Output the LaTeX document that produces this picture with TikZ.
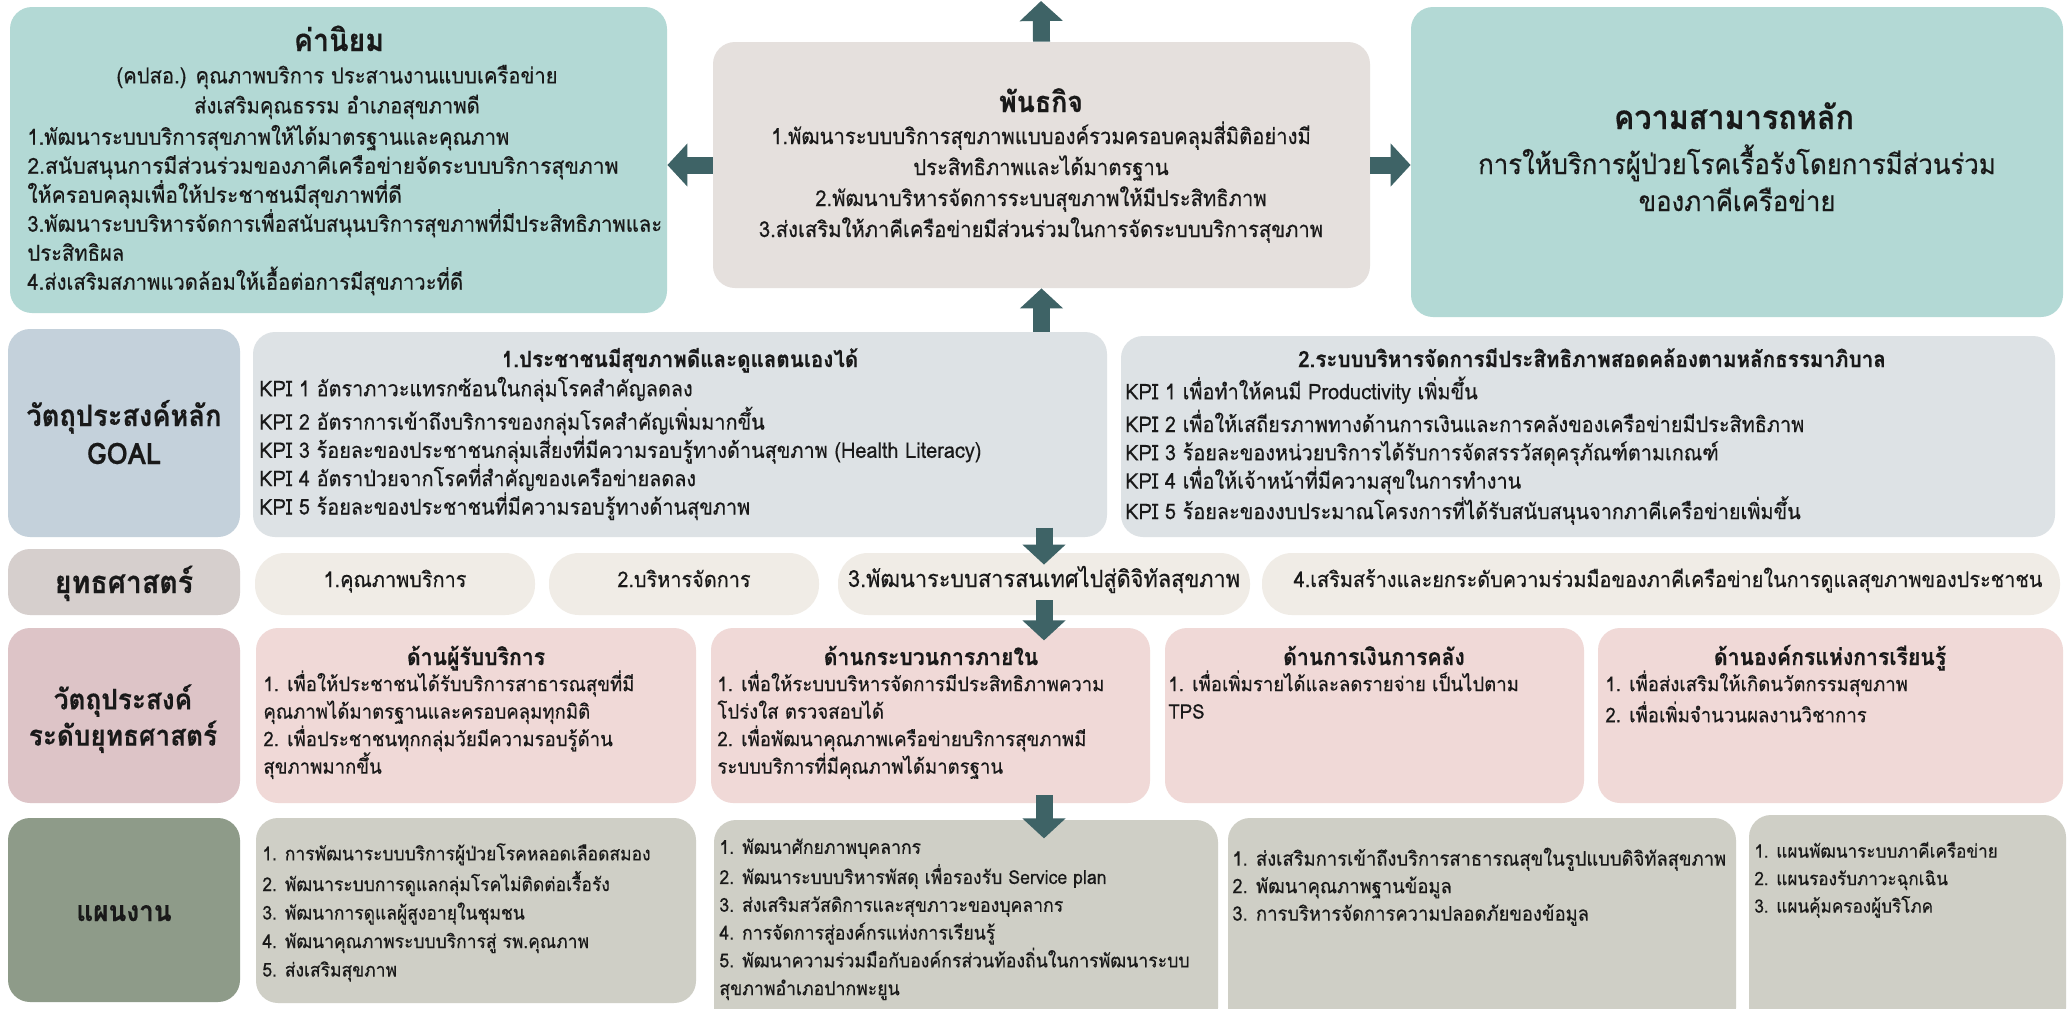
\documentclass[tikz,border=0pt]{standalone}
\usepackage{fontspec}
\setmainfont[Script=Thai,FakeStretch=0.92,FakeBold=0.4]{Loma}
\newfontfamily\thaiwide[Script=Thai,FakeStretch=0.96,FakeBold=0.4]{Loma}
\usetikzlibrary{fit,calc,arrows.meta}
\definecolor{tealbox}{RGB}{179,217,213}
\definecolor{missbox}{RGB}{229,224,221}
\definecolor{goallab}{RGB}{196,209,219}
\definecolor{kpibox}{RGB}{221,226,229}
\definecolor{stratlab}{RGB}{214,207,205}
\definecolor{pillc}{RGB}{240,236,230}
\definecolor{objlab}{RGB}{221,196,199}
\definecolor{objbox}{RGB}{240,217,215}
\definecolor{planlab}{RGB}{142,155,137}
\definecolor{planbox}{RGB}{207,207,198}
\definecolor{arrowc}{RGB}{62,99,102}
\definecolor{txt}{RGB}{25,25,25}
\newcommand\fs[2]{\fontsize{#1}{#2}\selectfont}
\begin{document}
\begin{tikzpicture}[x=0.5pt,y=-0.5pt,
  box/.style={inner sep=0pt, rounded corners=11pt, draw=none},
  pill/.style={inner sep=0pt, rounded corners=15pt, draw=none, fill=pillc},
  tb/.style={inner sep=0pt, anchor=north west, align=left, text=txt},
  tbc/.style={inner sep=0pt, anchor=north, align=center, text=txt},
  tl/.style={inner sep=0pt, anchor=base, text=txt},
  barrow/.style={draw=arrowc, line width=8.5pt, -{Triangle[width=21pt,length=10pt]}}]
\path[use as bounding box] (0,0) rectangle (2071,1008);
\clip (0,0) rectangle (2071,1008);
\fill[white] (0,0) rectangle (2071,1008);

% ---------- row 1 ----------
\node[box, fill=tealbox, fit={(10,7) (667,313)}] (values) {};
\node[box, fill=missbox, fit={(713,42) (1370,288)}] (mission) {};
\node[box, fill=tealbox, fit={(1411,7) (2063,317)}] (capab) {};

\node[tl, font=\fs{15.5}{18}\bfseries] (valT) at (339,51) {ค่านิยม};
\node[tbc, font=\fs{11}{15}] (valC) at (337,62) {\strut(คปสอ.) คุณภาพบริการ ประสานงานแบบเครือข่าย\\ส่งเสริมคุณธรรม อำเภอสุขภาพดี};
\node[tb, font=\fs{11}{14.5}] (valL) at (27,124) {\strut1.พัฒนาระบบบริการสุขภาพให้ได้มาตรฐานและคุณภาพ\\
{\thaiwide 2.สนับสนุนการมีส่วนร่วมของภาคีเครือข่ายจัดระบบบริการสุขภาพ}\\
{\thaiwide ให้ครอบคลุมเพื่อให้ประชาชนมีสุขภาพที่ดี}\\
3.พัฒนาระบบริหารจัดการเพื่อสนับสนุนบริการสุขภาพที่มีประสิทธิภาพและ\\
ประสิทธิผล\\
4.ส่งเสริมสภาพแวดล้อมให้เอื้อต่อการมีสุขภาวะที่ดี};

\node[tl, font=\fs{14.5}{17}\bfseries] (misT) at (1041,112) {พันธกิจ};
\node[tbc, font=\fs{11}{15.5}] (misB) at (1041,121) {\strut1.พัฒนาระบบบริการสุขภาพแบบองค์รวมครอบคลุมสี่มิติอย่างมี\\
ประสิทธิภาพและได้มาตรฐาน\\
2.พัฒนาบริหารจัดการระบบสุขภาพให้มีประสิทธิภาพ\\
3.ส่งเสริมให้ภาคีเครือข่ายมีส่วนร่วมในการจัดระบบบริการสุขภาพ};

\node[tl, font=\fs{16.6}{19}\bfseries] (capT) at (1734,129) {ความสามารถหลัก};
\node[tbc, font=\fs{14}{18.5}] (capB) at (1737,144) {\strut การให้บริการผู้ป่วยโรคเรื้อรังโดยการมีส่วนร่วม\\ของภาคีเครือข่าย};

\coordinate (topend) at (1041,1);
\draw[barrow] (mission.north) -- (topend);
\draw[barrow] (mission.west) -- (values.east |- mission.west);
\draw[barrow] (mission.east) -- (capab.west |- mission.east);

% ---------- row 2 ----------
\node[box, fill=goallab, fit={(8,329) (240,537)}] (goalL) {};
\node[box, fill=kpibox, fit={(253,332) (1107,537)}] (kpi1) {};
\node[box, fill=kpibox, fit={(1121,336) (2055,537)}] (kpi2) {};
\draw[barrow] (mission.south |- kpi1.north) -- (mission.south);

\node[tbc, font=\fs{14.8}{19}\bfseries] (goalT) at (124,399) {\strut วัตถุประสงค์หลัก\\GOAL};
\node[tl, font=\fs{11.2}{13}\bfseries] (k1T) at (680,367) {1.ประชาชนมีสุขภาพดีและดูแลตนเองได้};
\node[tb, font=\fs{10.8}{14.15}] (k1B) at (259,376) {\strut KPI 1 อัตราภาวะแทรกซ้อนในกลุ่มโรคสำคัญลดลง\\
KPI 2 อัตราการเข้าถึงบริการของกลุ่มโรคสำคัญเพิ่มมากขึ้น\\
KPI 3 ร้อยละของประชาชนกลุ่มเสี่ยงที่มีความรอบรู้ทางด้านสุขภาพ (Health Literacy)\\
KPI 4 อัตราป่วยจากโรคที่สำคัญของเครือข่ายลดลง\\
KPI 5 ร้อยละของประชาชนที่มีความรอบรู้ทางด้านสุขภาพ};
\node[tl, font=\fs{11.2}{13}\bfseries] (k2T) at (1592,367) {2.ระบบบริหารจัดการมีประสิทธิภาพสอดคล้องตามหลักธรรมาภิบาล};
\node[tb, font=\fs{10.8}{14.15}] (k2B) at (1125,376) {\strut KPI 1 เพื่อทำให้คนมี Productivity เพิ่มขึ้น\\
KPI 2 เพื่อให้เสถียรภาพทางด้านการเงินและการคลังของเครือข่ายมีประสิทธิภาพ\\
KPI 3 ร้อยละของหน่วยบริการได้รับการจัดสรรวัสดุครุภัณฑ์ตามเกณฑ์\\
KPI 4 เพื่อให้เจ้าหน้าที่มีความสุขในการทำงาน\\
KPI 5 ร้อยละของงบประมาณโครงการที่ได้รับสนับสนุนจากภาคีเครือข่ายเพิ่มขึ้น};

% ---------- row 3 ----------
\node[box, fill=stratlab, fit={(8,549) (240,615)}] (stratL) {};
\node[pill, fit={(255,553) (535,615)}] (s1) {};
\node[pill, fit={(549,553) (819,615)}] (s2) {};
\node[pill, fit={(838,553) (1250,615)}] (s3) {};
\node[pill, fit={(1262,553) (2060,615)}] (s4) {};
\node[tl, font=\fs{15.5}{18}\bfseries] (stratT) at (124,593) {ยุทธศาสตร์};
\node[tl, font=\fs{10.8}{13}] (s1T) at (395,587) {1.คุณภาพบริการ};
\node[tl, font=\fs{10.8}{13}] (s2T) at (684,587) {2.บริหารจัดการ};
\node[tl, font=\fs{11.8}{13}] (s3T) at (1044,587) {3.พัฒนาระบบสารสนเทศไปสู่ดิจิทัลสุขภาพ};
\node[tl, font=\fs{10.8}{13}] (s4T) at (1668,587) {4.เสริมสร้างและยกระดับความร่วมมือของภาคีเครือข่ายในการดูแลสุขภาพของประชาชน};
\draw[barrow] ($(s3.north)+(0,-25)$) -- ($(s3.north)+(0,12)$);

% ---------- row 4 ----------
\node[box, fill=objlab, fit={(8,628) (240,803)}] (objL) {};
\node[box, fill=objbox, fit={(256,628) (696,803)}] (oA) {};
\node[box, fill=objbox, fit={(711,628) (1150,803)}] (oB) {};
\node[box, fill=objbox, fit={(1165,628) (1584,803)}] (oC) {};
\node[box, fill=objbox, fit={(1598,628) (2063,803)}] (oD) {};
\draw[barrow] ($(s3.south)+(0,-15)$) -- ($(s3.south)+(0,25)$);

\node[tbc, font=\fs{14.2}{15.5}\bfseries] (objT) at (123,684) {\strut วัตถุประสงค์\\ระดับยุทธศาสตร์};
\node[tl, font=\fs{11.5}{13}\bfseries] (oAT) at (476,665) {ด้านผู้รับบริการ};
\node[tl, font=\fs{11.5}{13}\bfseries] (oBT) at (931,665) {ด้านกระบวนการภายใน};
\node[tl, font=\fs{11.5}{13}\bfseries] (oCT) at (1374,665) {ด้านการเงินการคลัง};
\node[tl, font=\fs{11.5}{13}\bfseries] (oDT) at (1830,665) {ด้านองค์กรแห่งการเรียนรู้};
\node[tb, font=\fs{10.1}{13.75}] (oAB) at (263,670) {\strut1. เพื่อให้ประชาชนได้รับบริการสาธารณสุขที่มี\\
คุณภาพได้มาตรฐานและครอบคลุมทุกมิติ\\
2. เพื่อประชาชนทุกกลุ่มวัยมีความรอบรู้ด้าน\\
สุขภาพมากขึ้น};
\node[tb, font=\fs{10.1}{13.75}] (oBB) at (717,670) {\strut1. เพื่อให้ระบบบริหารจัดการมีประสิทธิภาพความ\\
โปร่งใส ตรวจสอบได้\\
2. เพื่อพัฒนาคุณภาพเครือข่ายบริการสุขภาพมี\\
ระบบบริการที่มีคุณภาพได้มาตรฐาน};
\node[tb, font=\fs{10.1}{13.75}] (oCB) at (1168,670) {\strut1. เพื่อเพิ่มรายได้และลดรายจ่าย เป็นไปตาม\\TPS};
\node[tb, font=\fs{10.1}{13.75}] (oDB) at (1605,670) {\strut1. เพื่อส่งเสริมให้เกิดนวัตกรรมสุขภาพ\\2. เพื่อเพิ่มจำนวนผลงานวิชาการ};

% ---------- row 5 ----------
\node[box, fill=planlab, fit={(8,818) (240,1002)}] (planL) {};
\node[box, fill=planbox, fit={(256,818) (696,1003)}] (p1) {};
\node[box, fill=planbox, fit={(714,820) (1218,1030)}] (p2) {};
\node[box, fill=planbox, fit={(1228,818) (1736,1030)}] (p3) {};
\node[box, fill=planbox, fit={(1749,815) (2066,1030)}] (p4) {};
\draw[barrow] ($(s3.south |- oB.south)+(0,-8)$) -- ($(s3.south |- oB.south)+(0,35)$);

\node[tl, font=\fs{14.2}{16}\bfseries] (planT) at (124,921) {แผนงาน};
\node[tb, font=\fs{9.5}{14.25}] (p1B) at (262,840) {\strut1. การพัฒนาระบบบริการผู้ป่วยโรคหลอดเลือดสมอง\\
2. พัฒนาระบบการดูแลกลุ่มโรคไม่ติดต่อเรื้อรัง\\
3. พัฒนาการดูแลผู้สูงอายุในชุมชน\\
4. พัฒนาคุณภาพระบบบริการสู่ รพ.คุณภาพ\\
5. ส่งเสริมสุขภาพ};
\node[tb, font=\fs{9.6}{13.9}] (p2B) at (719,834) {\strut1. พัฒนาศักยภาพบุคลากร\\
2. พัฒนาระบบบริหารพัสดุ เพื่อรองรับ Service plan\\
3. ส่งเสริมสวัสดิการและสุขภาวะของบุคลากร\\
4. การจัดการสู่องค์กรแห่งการเรียนรู้\\
5. พัฒนาความร่วมมือกับองค์กรส่วนท้องถิ่นในการพัฒนาระบบ\\
สุขภาพอำเภอปากพะยูน};
\node[tb, font=\fs{10}{13.75}] (p3B) at (1232,846) {\strut1. ส่งเสริมการเข้าถึงบริการสาธารณสุขในรูปแบบดิจิทัลสุขภาพ\\
2. พัฒนาคุณภาพฐานข้อมูล\\
3. การบริหารจัดการความปลอดภัยของข้อมูล};
\node[tb, font=\fs{9.3}{13.75}] (p4B) at (1754,838) {\strut1. แผนพัฒนาระบบภาคีเครือข่าย\\
2. แผนรองรับภาวะฉุกเฉิน\\
3. แผนคุ้มครองผู้บริโภค};
\end{tikzpicture}
\end{document}
